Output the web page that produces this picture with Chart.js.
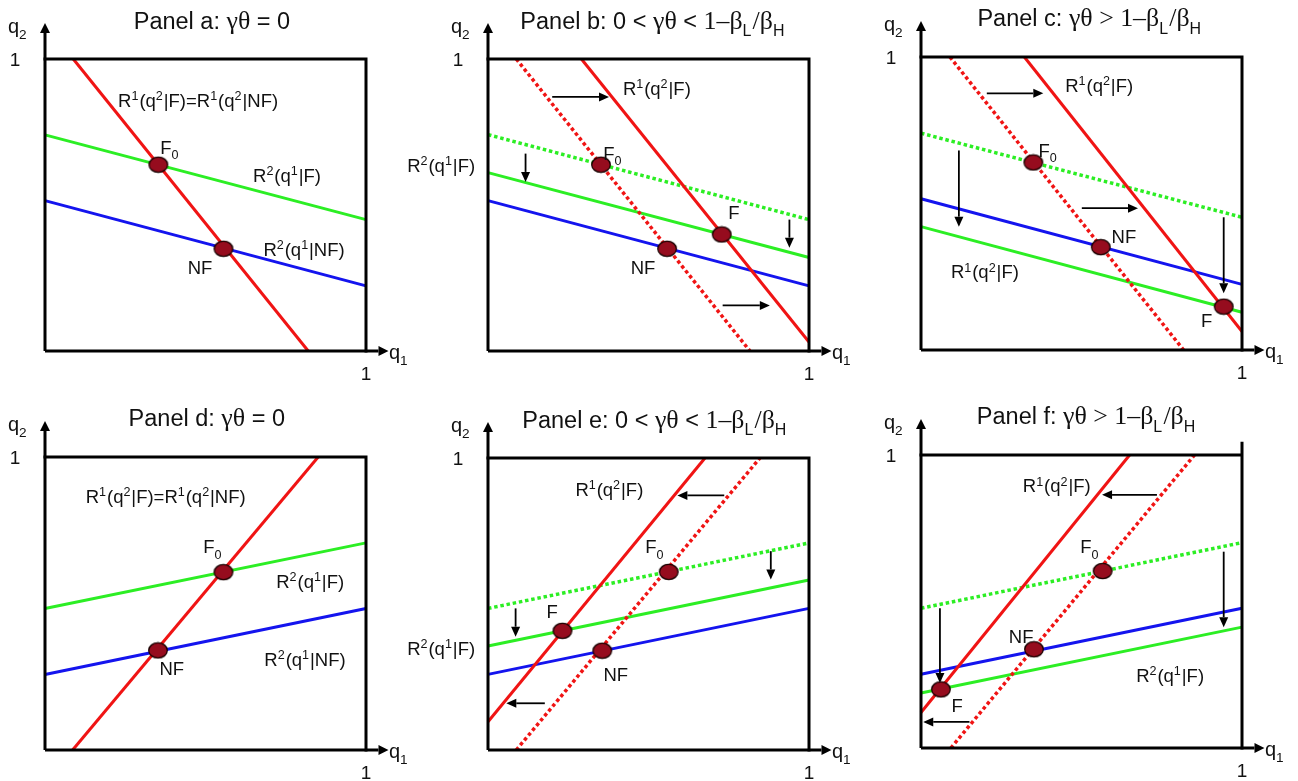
<!DOCTYPE html>
<html>
<head>
<meta charset="utf-8">
<script src="https://cdn.jsdelivr.net/npm/chart.js@4.4.1/dist/chart.umd.min.js"></script>
<style>
html, body { margin: 0; padding: 0; background: #fff; overflow: hidden; width: 1298px; height: 781px; }
.panel { position: absolute; }
</style>
</head>
<body>
<div class="panel" id="pa"><canvas id="ca"></canvas></div>
<div class="panel" id="pb"><canvas id="cb"></canvas></div>
<div class="panel" id="pc"><canvas id="cc"></canvas></div>
<div class="panel" id="pd"><canvas id="cd"></canvas></div>
<div class="panel" id="pe"><canvas id="ce"></canvas></div>
<div class="panel" id="pf"><canvas id="cf"></canvas></div>
<script>
// lines are [start, end] in (q1, q2) units, points are the equilibria, arrows are [from, to]

// panel a
const aRed = [[0.088, 1], [0.82, 0]];
const aGreen = [[0, 0.74], [1, 0.45]];
const aBlue = [[0, 0.515], [1, 0.223]];
const aPoints = [[0.353, 0.638], [0.556, 0.35]];

// panel b
const bRedOld = [[0.088, 1], [0.816, 0]];
const bRed = [[0.291, 1], [1, 0.031]];
const bGreenOld = [[0, 0.741], [1, 0.45]];
const bGreen = [[0, 0.611], [1, 0.32]];
const bBlue = [[0, 0.515], [1, 0.223]];
const bPoints = [[0.352, 0.638], [0.728, 0.399], [0.558, 0.35]];
const bArrows = [[[0.2, 0.87], [0.377, 0.87]], [[0.117, 0.676], [0.117, 0.579]],
                 [[0.939, 0.45], [0.939, 0.354]], [[0.731, 0.156], [0.878, 0.156]]];

// panel c
const cRedOld = [[0.09, 1], [0.818, 0]];
const cRed = [[0.322, 1], [1, 0.063]];
const cGreenOld = [[0, 0.74], [1, 0.453]];
const cBlue = [[0, 0.516], [1, 0.224]];
const cGreen = [[0, 0.421], [1, 0.129]];
const cPoints = [[0.35, 0.64], [0.56, 0.351], [0.943, 0.148]];
const cArrows = [[[0.205, 0.876], [0.381, 0.876]], [[0.501, 0.484], [0.676, 0.484]],
                 [[0.118, 0.681], [0.118, 0.421]], [[0.943, 0.453], [0.943, 0.194]]];

// panel d
const dRed = [[0.086, 0], [0.851, 1]];
const dGreen = [[0, 0.483], [1, 0.707]];
const dBlue = [[0, 0.258], [1, 0.483]];
const dPoints = [[0.556, 0.607], [0.352, 0.34]];

// panel e
const eRedOld = [[0.088, 0], [0.847, 1]];
const eRed = [[0, 0.097], [0.676, 1]];
const eGreenOld = [[0, 0.485], [1, 0.709]];
const eGreen = [[0, 0.356], [1, 0.582]];
const eBlue = [[0, 0.259], [1, 0.485]];
const ePoints = [[0.563, 0.61], [0.232, 0.408], [0.356, 0.34]];
const eArrows = [[[0.736, 0.872], [0.59, 0.872]], [[0.177, 0.16], [0.057, 0.16]],
                 [[0.086, 0.485], [0.086, 0.388]], [[0.881, 0.681], [0.881, 0.584]]];

// panel f
const fRedOld = [[0.093, 0], [0.852, 1]];
const fRed = [[0, 0.121], [0.65, 1]];
const fGreenOld = [[0, 0.477], [1, 0.701]];
const fBlue = [[0, 0.252], [1, 0.477]];
const fGreen = [[0, 0.1875], [1, 0.4125]];
const fPoints = [[0.566, 0.604], [0.352, 0.337], [0.062, 0.2]];
const fArrows = [[[0.735, 0.864], [0.564, 0.864]], [[0.151, 0.089], [0.007, 0.089]],
                 [[0.059, 0.477], [0.059, 0.222]], [[0.943, 0.67], [0.943, 0.4125]]];

const RED = '#f01414';
const GREEN = '#2cee24';
const BLUE = '#1414ee';
const SANS = '"Liberation Sans", Arial, sans-serif';
const SERIF = '"Liberation Serif", "Times New Roman", serif';

const R1EQ = [['R', 's'], ['1', 'sup'], ['(q', 's'], ['2', 'sup'], ['|F)=R', 's'], ['1', 'sup'], ['(q', 's'], ['2', 'sup'], ['|NF)', 's']];
const R1F = [['R', 's'], ['1', 'sup'], ['(q', 's'], ['2', 'sup'], ['|F)', 's']];
const R2F = [['R', 's'], ['2', 'sup'], ['(q', 's'], ['1', 'sup'], ['|F)', 's']];
const R2NF = [['R', 's'], ['2', 'sup'], ['(q', 's'], ['1', 'sup'], ['|NF)', 's']];
const F0 = [['F', 's'], ['0', 'sub']];
const NF = [['NF', 's']];
const FF = [['F', 's']];

const TITLE_A = [['Panel a: ', 's'], ['γθ', 'g'], [' = 0', 's']];
const TITLE_B = [['Panel b: 0 < ', 's'], ['γθ', 'g'], [' < ', 's'], ['1–β', 'g'], ['L', 'sub'], ['/β', 'g'], ['H', 'sub']];
const TITLE_C = [['Panel c: ', 's'], ['γθ > 1–β', 'g'], ['L', 'sub'], ['/β', 'g'], ['H', 'sub']];
const TITLE_D = [['Panel d: ', 's'], ['γθ', 'g'], [' = 0', 's']];
const TITLE_E = [['Panel e: 0 < ', 's'], ['γθ', 'g'], [' < ', 's'], ['1–β', 'g'], ['L', 'sub'], ['/β', 'g'], ['H', 'sub']];
const TITLE_F = [['Panel f: ', 's'], ['γθ > 1–β', 'g'], ['L', 'sub'], ['/β', 'g'], ['H', 'sub']];

const panels = [
  { id: 'a', box: [45, 59, 366, 351], title: TITLE_A, titleX: 0.52,
    lines: [[aRed, RED, false], [aGreen, GREEN, false], [aBlue, BLUE, false]],
    points: aPoints, arrows: [],
    labels: [[0.477, 0.86, R1EQ], [0.389, 0.699, F0], [0.754, 0.603, R2F], [0.807, 0.349, R2NF], [0.483, 0.288, NF]] },
  { id: 'b', box: [488, 59, 809, 351], title: TITLE_B, titleX: 0.514,
    lines: [[bRedOld, RED, true], [bRed, RED, false], [bGreenOld, GREEN, true], [bGreen, GREEN, false], [bBlue, BLUE, false]],
    points: bPoints, arrows: bArrows,
    labels: [[0.526, 0.9, R1F], [0.389, 0.678, F0], [0.766, 0.476, FF], [0.483, 0.288, NF], [-0.146, 0.637, R2F]] },
  { id: 'c', box: [921, 57, 1242, 350], title: TITLE_C, titleX: 0.526,
    lines: [[cRedOld, RED, true], [cRed, RED, false], [cGreenOld, GREEN, true], [cBlue, BLUE, false], [cGreen, GREEN, false]],
    points: cPoints, arrows: cArrows,
    labels: [[0.555, 0.904, R1F], [0.396, 0.683, F0], [0.632, 0.389, NF], [0.199, 0.267, R1F], [0.89, 0.102, FF]] },
  { id: 'd', box: [45, 457, 366, 750], title: TITLE_D, titleX: 0.504,
    lines: [[dRed, RED, false], [dGreen, GREEN, false], [dBlue, BLUE, false]],
    points: dPoints, arrows: [],
    labels: [[0.376, 0.867, R1EQ], [0.523, 0.694, F0], [0.826, 0.577, R2F], [0.395, 0.279, NF], [0.81, 0.309, R2NF]] },
  { id: 'e', box: [488, 458, 809, 750], title: TITLE_E, titleX: 0.52,
    lines: [[eRedOld, RED, true], [eRed, RED, false], [eGreenOld, GREEN, true], [eGreen, GREEN, false], [eBlue, BLUE, false]],
    points: ePoints, arrows: eArrows,
    labels: [[0.378, 0.893, R1F], [0.52, 0.696, F0], [0.2, 0.474, FF], [0.398, 0.26, NF], [-0.146, 0.348, R2F]] },
  { id: 'f', box: [921, 455, 1242, 748], title: TITLE_F, titleX: 0.516, rightTop: 1.04,
    lines: [[fRedOld, RED, true], [fRed, RED, false], [fGreenOld, GREEN, true], [fBlue, BLUE, false], [fGreen, GREEN, false]],
    points: fPoints, arrows: fArrows,
    labels: [[0.423, 0.895, R1F], [0.526, 0.687, F0], [0.312, 0.382, NF], [0.776, 0.249, R2F], [0.113, 0.147, FF]] }
];

const PAD = { left: 95, top: 60, right: 60, bottom: 40 };

function makeMarker() {
  const c = document.createElement('canvas');
  c.width = 22; c.height = 18;
  const g = c.getContext('2d');
  g.beginPath();
  g.ellipse(11, 9, 9.3, 7.6, 0, 0, Math.PI * 2);
  g.fillStyle = '#960c1e';
  g.fill();
  g.lineWidth = 1.3;
  g.strokeStyle = '#1a0000';
  g.stroke();
  return c;
}
const marker = makeMarker();

function drawRich(ctx, parts, cx, cy, size, align) {
  let w = 0;
  const items = parts.map(([t, k]) => {
    const small = k === 'sub' || k === 'sup';
    const serif = k === 'g';
    let fs = serif ? size * 1.1 : size;
    if (small) fs = size * 0.68;
    const font = fs + 'px ' + (serif ? SERIF : SANS);
    ctx.font = font;
    const mw = ctx.measureText(t).width + (small ? size * 0.05 : 0);
    w += mw;
    let dy = 0;
    if (k === 'sub') dy = size * 0.3;
    if (k === 'sup') dy = -size * 0.36;
    return { t, font, mw, dy };
  });
  let x = align === 'left' ? cx : cx - w / 2;
  const base = cy + size * 0.36;
  ctx.textAlign = 'left';
  ctx.textBaseline = 'alphabetic';
  items.forEach(it => {
    ctx.font = it.font;
    ctx.fillText(it.t, x, base + it.dy);
    x += it.mw;
  });
}

function arrow(ctx, x0, y0, x1, y1, len, half, lw) {
  const ang = Math.atan2(y1 - y0, x1 - x0);
  const bx = x1 - Math.cos(ang) * len, by = y1 - Math.sin(ang) * len;
  ctx.lineWidth = lw;
  ctx.beginPath();
  ctx.moveTo(x0, y0);
  ctx.lineTo(bx, by);
  ctx.stroke();
  ctx.beginPath();
  ctx.moveTo(x1, y1);
  ctx.lineTo(bx - Math.sin(ang) * half, by + Math.cos(ang) * half);
  ctx.lineTo(bx + Math.sin(ang) * half, by - Math.cos(ang) * half);
  ctx.closePath();
  ctx.fill();
}

const framePlugin = {
  id: 'frame',
  afterDatasetsDraw(chart) {
    const p = chart.options.plugins.frame.panel;
    const ctx = chart.ctx;
    const X = v => chart.scales.x.getPixelForValue(v);
    const Y = v => chart.scales.y.getPixelForValue(v);
    ctx.save();
    ctx.strokeStyle = '#000';
    ctx.fillStyle = '#000';
    ctx.lineCap = 'square';
    ctx.lineWidth = 3;
    ctx.beginPath();
    ctx.moveTo(X(0), Y(1));
    ctx.lineTo(X(1), Y(1));
    ctx.moveTo(X(1), Y(p.rightTop || 1));
    ctx.lineTo(X(1), Y(0));
    ctx.stroke();
    ctx.lineCap = 'butt';
    // axes with arrow heads
    arrow(ctx, X(0), Y(0), X(0), Y(1.123), 10, 5, 3);
    arrow(ctx, X(0), Y(0), X(1.07), Y(0), 10, 5, 3);
    // shift arrows
    p.arrows.forEach(([a, b]) => arrow(ctx, X(a[0]), Y(a[1]), X(b[0]), Y(b[1]), 10, 4.5, 1.8));
    ctx.restore();
  },
  afterDraw(chart) {
    const p = chart.options.plugins.frame.panel;
    const ctx = chart.ctx;
    const X = v => chart.scales.x.getPixelForValue(v);
    const Y = v => chart.scales.y.getPixelForValue(v);
    const L = X(0), B = Y(0), R = X(1), T = Y(1);
    ctx.save();
    ctx.fillStyle = '#111';
    drawRich(ctx, p.title, X(p.titleX), Y(1.133), 23.5, 'center');
    drawRich(ctx, [['q', 's'], ['2', 'sub']], L - 37, T - 33, 20, 'left');
    drawRich(ctx, [['1', 's']], L - 30, T, 19, 'center');
    drawRich(ctx, [['q', 's'], ['1', 'sub']], R + 23, B + 1, 20, 'left');
    drawRich(ctx, [['1', 's']], R, B + 22, 19, 'center');
    p.labels.forEach(([x, y, parts]) => drawRich(ctx, parts, X(x), Y(y), 18.5, 'center'));
    ctx.restore();
  }
};

panels.forEach(p => {
  const [L, T, R, B] = p.box;
  const div = document.getElementById('p' + p.id);
  div.style.left = (L - PAD.left) + 'px';
  div.style.top = (T - PAD.top) + 'px';
  div.style.width = (R - L + PAD.left + PAD.right) + 'px';
  div.style.height = (B - T + PAD.top + PAD.bottom) + 'px';

  const datasets = [{
    data: p.points.map(([x, y]) => ({ x, y })),
    pointStyle: marker,
    pointRadius: 9,
    showLine: false,
    order: 0
  }];
  p.lines.forEach(([pts, color, dotted], i) => {
    datasets.push({
      data: pts.map(([x, y]) => ({ x, y })),
      showLine: true,
      borderColor: color,
      borderWidth: dotted ? 3.5 : 3,
      borderDash: dotted ? [3.5, 2.8] : [],
      pointRadius: 0,
      fill: false,
      clip: false,
      order: 1 + i
    });
  });

  new Chart(document.getElementById('c' + p.id), {
    type: 'scatter',
    data: { datasets },
    options: {
      responsive: true,
      maintainAspectRatio: false,
      animation: false,
      events: [],
      layout: { padding: PAD },
      plugins: { legend: { display: false }, tooltip: { enabled: false }, frame: { panel: p } },
      scales: {
        x: { type: 'linear', min: 0, max: 1, display: false },
        y: { type: 'linear', min: 0, max: 1, display: false }
      }
    },
    plugins: [framePlugin]
  });
});
</script>
</body>
</html>
